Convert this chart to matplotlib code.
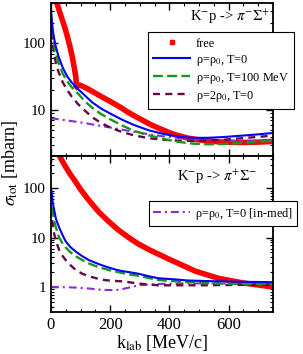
import numpy as np
import matplotlib.pyplot as plt
from matplotlib.lines import Line2D

plt.rcParams['font.family'] = ['Liberation Serif', 'DejaVu Serif']
plt.rcParams['mathtext.fontset'] = 'stix'

# ---- top panel: K- p -> pi- Sigma+ ----
# free cross section: steep branch below the cusp, then the branch above it
k_free_top_a = [20, 30, 39, 48, 56, 64, 72, 78, 84, 87]
s_free_top_a = [400, 290, 220, 165, 124, 90, 63, 45, 31.6, 22.4]
k_free_top_b = [87, 92, 100, 123, 162, 200, 235, 262, 291, 336, 363, 400, 430, 464, 498, 565, 631, 700, 750]
s_free_top_b = [22.4, 23.5, 23.5, 21.0, 16.7, 13.5, 11.0, 9.2, 7.8, 6.1, 5.4, 4.6, 4.15, 3.8, 3.6, 3.35, 3.28, 3.32, 3.4]

k_top = [0, 3, 8, 15, 25, 40, 55, 70, 90, 115, 140, 170, 200, 240, 280, 330, 380, 430, 480, 530, 580, 630, 690, 750]
s_blue_top = [330, 220, 140, 95, 65, 43, 32, 26, 21, 16.5, 13, 10.5, 8.9, 7.2, 6.0, 5.0, 4.4, 4.0,
              3.85, 3.85, 3.95, 4.1, 4.3, 4.55]
s_green_top = [280, 170, 115, 75, 52, 35, 27, 22, 18, 13.5, 10.8, 8.7, 7.3, 5.9, 4.9, 4.2, 3.7, 3.35,
               3.15, 3.08, 3.1, 3.2, 3.35, 3.5]
s_maroon_top = [220, 130, 85, 55, 38, 26, 20, 16, 12.5, 9.8, 7.8, 6.4, 5.5, 4.7, 4.2, 3.8, 3.6, 3.5,
                3.45, 3.5, 3.6, 3.75, 3.95, 4.15]
s_violet_top = [7.5, 7.5, 7.45, 7.4, 7.3, 7.15, 7.0, 6.85, 6.65, 6.4, 6.1, 5.8, 5.5, 5.1, 4.75, 4.35,
                4.05, 3.85, 3.7, 3.6, 3.5, 3.45, 3.45, 3.5]

# ---- bottom panel: K- p -> pi+ Sigma- ----
k_free_bot = [25, 34, 50, 67, 80, 89, 100, 128, 162, 196, 229, 263, 296, 330, 397, 487, 565, 650, 750]
s_free_bot = [500, 400, 270, 186, 145, 120, 95, 57.5, 33, 21, 14.1, 10, 7.4, 5.75, 3.7, 2.1, 1.5, 1.2, 1.0]

k_bot = [0, 3, 6, 11, 17, 28, 40, 50, 65, 84, 106, 128, 162, 184, 218, 240, 263, 296, 330, 363,
         420, 464, 520, 565, 650, 750]
s_blue_bot = [110, 75, 52, 36, 24, 16, 11, 8.4, 6.5, 5.2, 4.2, 3.5, 2.9, 2.6, 2.25, 2.1, 2.0, 1.85,
              1.65, 1.5, 1.42, 1.35, 1.32, 1.3, 1.27, 1.25]
s_green_bot = [80, 50, 33, 22, 16, 10, 7.5, 6.3, 5.1, 4.2, 3.5, 3.0, 2.5, 2.3, 2.05, 1.92, 1.8, 1.68,
               1.52, 1.38, 1.3, 1.25, 1.2, 1.17, 1.15, 1.15]
s_maroon_bot = [40, 26, 19, 12, 8.5, 5.6, 4.2, 3.5, 2.8, 2.2, 1.85, 1.65, 1.45, 1.37, 1.32, 1.3,
                1.25, 1.17, 1.12, 1.08, 1.08, 1.08, 1.08, 1.09, 1.1, 1.1]
s_violet_bot = [1.0, 1.0, 1.0, 1.0, 1.0, 0.99, 0.99, 0.98, 0.98, 0.97, 0.95, 0.93, 0.885, 0.87,
                0.86, 0.9, 0.97, 1.08, 1.12, 1.15, 1.17, 1.18, 1.18, 1.18, 1.17, 1.17]

RED = '#ff0000'
BLUE = '#0000ff'
GREEN = '#1a961a'
MAROON = '#670748'
VIOLET = '#8a2be2'
DASH_GREEN = (4.2, 1.8)
DASH_MAROON = (3.0, 2.2)
DASH_VIOLET = (3.8, 1.9, 1.0, 1.9)

fig = plt.figure(figsize=(3.03, 3.54), dpi=100)
ax1 = fig.add_axes([0.168, 0.559, 0.733, 0.4325])
ax2 = fig.add_axes([0.168, 0.1186, 0.733, 0.4404])


def style_axis(ax):
    ax.set_yscale('log')
    ax.set_xlim(0, 750)
    ax.set_xticks([0, 200, 400, 600])
    ax.set_xticks(np.arange(0, 751, 50), minor=True)
    ax.tick_params(which='both', direction='in', top=True, right=True)
    ax.tick_params(axis='x', labelsize=12)
    ax.tick_params(axis='y', labelsize=11)
    ax.tick_params(which='major', length=5, width=1)
    ax.tick_params(which='minor', length=2.5, width=0.8)
    for sp in ax.spines.values():
        sp.set_linewidth(1.3)


def draw_models(ax, k, blue, green, maroon, violet):
    ax.plot(k, violet, color=VIOLET, lw=1.5, dashes=DASH_VIOLET)
    ax.plot(k, maroon, color=MAROON, lw=1.7, dashes=DASH_MAROON)
    ax.plot(k, green, color=GREEN, lw=1.7, dashes=DASH_GREEN)
    ax.plot(k, blue, color=BLUE, lw=1.5)


# top panel
ax1.plot(k_free_top_a, s_free_top_a, color=RED, lw=4, solid_capstyle='butt')
ax1.plot(k_free_top_b, s_free_top_b, color=RED, lw=4)
draw_models(ax1, k_top, s_blue_top, s_green_top, s_maroon_top, s_violet_top)
style_axis(ax1)
ax1.set_ylim(2.05, 400)
ax1.set_yticks([10, 100])
ax1.set_yticklabels(['10', '100'])
ax1.tick_params(labelbottom=False)
ax1.text(0.985, 0.91, r'K$^{-}$p -> $\pi^{-}\Sigma^{+}$', transform=ax1.transAxes,
         ha='right', va='center', fontsize=10.5)

handles = [
    Line2D([], [], color=RED, ls='none', marker='s', ms=2.5),
    Line2D([], [], color=BLUE, lw=1.5),
    Line2D([], [], color=GREEN, lw=1.7, dashes=DASH_GREEN),
    Line2D([], [], color=MAROON, lw=1.7, dashes=DASH_MAROON),
]
labels = ['free', r'ρ=ρ$_0$, T=0', r'ρ=ρ$_0$, T=100 MeV', r'ρ=2ρ$_0$, T=0']
leg1 = ax1.legend(handles, labels, loc='upper left', bbox_to_anchor=(0.437, 0.81), fontsize=8.8,
                  frameon=True, fancybox=False, edgecolor='black', framealpha=1, borderaxespad=0,
                  handlelength=3.0, borderpad=0.45, labelspacing=0.25, handletextpad=0.45)
leg1.get_frame().set_linewidth(0.8)

# bottom panel
ax2.plot(k_free_bot, s_free_bot, color=RED, lw=4)
draw_models(ax2, k_bot, s_blue_bot, s_green_bot, s_maroon_bot, s_violet_bot)
style_axis(ax2)
ax2.set_ylim(0.31, 450)
ax2.set_yticks([1, 10, 100])
ax2.set_yticklabels(['1', '10', '100'])
ax2.text(0.93, 0.865, r'K$^{-}$p -> $\pi^{+}\Sigma^{-}$', transform=ax2.transAxes,
         ha='right', va='center', fontsize=10.5)
ax2.set_xlabel(r'k$_{\rm lab}$ [MeV/c]', fontsize=13, labelpad=0)

h2 = [Line2D([], [], color=VIOLET, lw=1.5, dashes=DASH_VIOLET)]
leg2 = ax2.legend(h2, [r'ρ=ρ$_0$, T=0 [in-med]'], loc='upper left', bbox_to_anchor=(0.441, 0.71),
                  fontsize=8.8, frameon=True, fancybox=False, edgecolor='black', framealpha=1,
                  borderaxespad=0, handlelength=3.0, borderpad=0.35, handletextpad=0.45)
leg2.get_frame().set_linewidth(0.8)

fig.text(0.033, 0.54, r'$\sigma_{\rm tot}$ [mbarn]', rotation=90, ha='center', va='center', fontsize=13)

fig.savefig('out.png', dpi=100)
